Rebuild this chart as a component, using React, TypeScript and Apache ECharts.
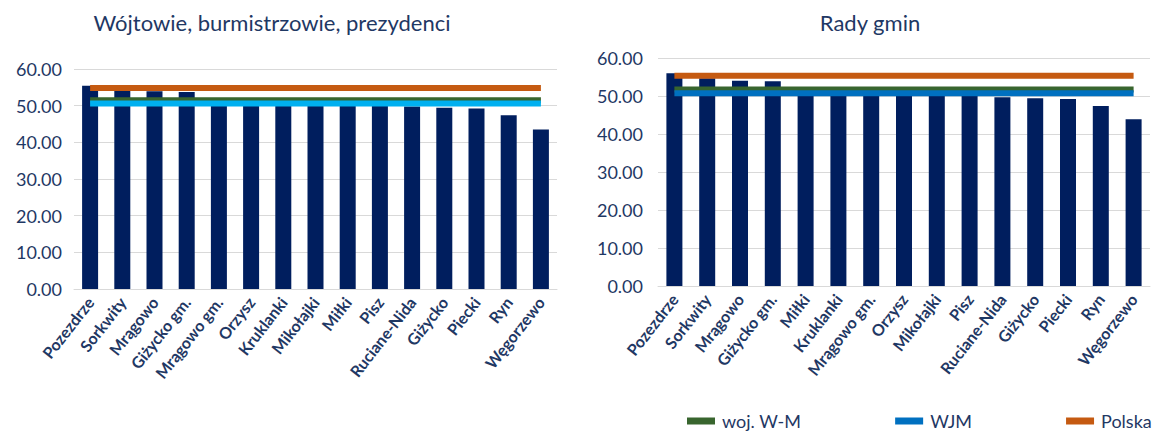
import React, { useEffect, useRef } from "react";
import * as echarts from "echarts";

const leftCategories = [
  "Pozezdrze", "Sorkwity", "Mrągowo", "Giżycko gm.", "Mrągowo gm.", "Orzysz", "Kruklanki",
  "Mikołajki", "Miłki", "Pisz", "Ruciane-Nida", "Giżycko", "Piecki", "Ryn", "Węgorzewo",
];
const leftValues = [55.4, 54.1, 53.9, 53.7, 51.6, 51.3, 51.0, 50.7, 50.4, 50.1, 49.8, 49.4, 49.2, 47.4, 43.5];
const leftWM = [51.5, 51.5, 51.5, 51.5, 51.5, 51.5, 51.5, 51.5, 51.5, 51.5, 51.5, 51.5, 51.5, 51.5, 51.5];
const leftWJM = [50.6, 50.6, 50.6, 50.6, 50.6, 50.6, 50.6, 50.6, 50.6, 50.6, 50.6, 50.6, 50.6, 50.6, 50.6];
const leftPL = [54.8, 54.8, 54.8, 54.8, 54.8, 54.8, 54.8, 54.8, 54.8, 54.8, 54.8, 54.8, 54.8, 54.8, 54.8];

const rightCategories = [
  "Pozezdrze", "Sorkwity", "Mrągowo", "Giżycko gm.", "Miłki", "Kruklanki", "Mrągowo gm.",
  "Orzysz", "Mikołajki", "Pisz", "Ruciane-Nida", "Giżycko", "Piecki", "Ryn", "Węgorzewo",
];
const rightValues = [56.0, 54.7, 54.0, 53.9, 51.5, 51.2, 50.9, 50.6, 50.3, 50.0, 49.7, 49.4, 49.2, 47.4, 43.9];
const rightWM = [51.7, 51.7, 51.7, 51.7, 51.7, 51.7, 51.7, 51.7, 51.7, 51.7, 51.7, 51.7, 51.7, 51.7, 51.7];
const rightWJM = [50.7, 50.7, 50.7, 50.7, 50.7, 50.7, 50.7, 50.7, 50.7, 50.7, 50.7, 50.7, 50.7, 50.7, 50.7];
const rightPL = [55.3, 55.3, 55.3, 55.3, 55.3, 55.3, 55.3, 55.3, 55.3, 55.3, 55.3, 55.3, 55.3, 55.3, 55.3];

const yTicks = { min: 0, max: 60, interval: 10 };
const titles = ["Wójtowie, burmistrzowie, prezydenci", "Rady gmin"];
const seriesNames = ["woj. W-M", "WJM", "Polska"];

const NAVY = "#001E5E";
const TEXT = "#1F3864";
const GREEN = "#38652E";
const CYAN = "#00B0F0";
const BLUE = "#0070C0";
const ORANGE = "#C55A11";
const FONT = "Lato, 'Open Sans', sans-serif";

export default function App() {
  const ref = useRef<HTMLDivElement>(null);

  useEffect(() => {
    if (!ref.current) return;
    const chart = echarts.init(ref.current, undefined, { renderer: "svg" });

    const xAxisCommon = (gridIndex: number, data: string[]) => ({
      type: "category",
      gridIndex,
      data,
      axisLine: { show: true, lineStyle: { color: "#D9D9D9", width: 1 } },
      axisTick: { show: false },
      axisLabel: {
        interval: 0,
        rotate: 52,
        margin: 10,
        color: TEXT,
        fontFamily: FONT,
        fontWeight: "bold",
        fontSize: 16,
      },
    });
    const yAxisCommon = (gridIndex: number, margin: number) => ({
      type: "value",
      gridIndex,
      min: yTicks.min,
      max: yTicks.max,
      interval: yTicks.interval,
      axisLine: { show: false },
      axisTick: { show: false },
      splitLine: { lineStyle: { color: "#D9D9D9", width: 1 } },
      axisLabel: {
        margin,
        color: TEXT,
        fontFamily: FONT,
        fontSize: 18,
        formatter: (v: number) => v.toFixed(2),
      },
    });
    const lineSeries = (name: string, idx: number, data: number[], color: string, z: number) => ({
      name,
      type: "line",
      xAxisIndex: idx,
      yAxisIndex: idx,
      data,
      symbol: "none",
      lineStyle: { color, width: 6, cap: "butt" },
      itemStyle: { color },
      z,
    });

    chart.setOption({
      animation: false,
      textStyle: { fontFamily: FONT },
      grid: [
        { left: 74, top: 69, width: 483, height: 220 },
        { left: 658, top: 58, width: 492, height: 228 },
      ],
      xAxis: [xAxisCommon(0, leftCategories), xAxisCommon(1, rightCategories)],
      yAxis: [yAxisCommon(0, 12), yAxisCommon(1, 15)],
      legend: {
        left: 687,
        top: 411,
        itemGap: 94,
        itemWidth: 28,
        itemHeight: 7,
        icon: "rect",
        padding: 0,
        textStyle: { color: TEXT, fontSize: 18, lineHeight: 20, fontFamily: FONT, padding: [0, 0, 0, 2] },
        data: [
          { name: seriesNames[0], itemStyle: { color: GREEN } },
          { name: seriesNames[1], itemStyle: { color: BLUE } },
          { name: seriesNames[2], itemStyle: { color: ORANGE } },
        ],
      },
      graphic: [
        {
          type: "text",
          x: 272,
          y: 22,
          style: {
            text: titles[0],
            align: "center",
            verticalAlign: "middle",
            fontSize: 22,
            fontFamily: FONT,
            fill: TEXT,
          },
        },
        {
          type: "text",
          x: 870,
          y: 22,
          style: {
            text: titles[1],
            align: "center",
            verticalAlign: "middle",
            fontSize: 22,
            fontFamily: FONT,
            fill: TEXT,
          },
        },
      ],
      series: [
        {
          name: "left",
          type: "bar",
          xAxisIndex: 0,
          yAxisIndex: 0,
          data: leftValues,
          barWidth: 16,
          itemStyle: { color: NAVY },
          z: 1,
        },
        lineSeries(seriesNames[0], 0, leftWM, GREEN, 2),
        lineSeries(seriesNames[1], 0, leftWJM, CYAN, 3),
        lineSeries(seriesNames[2], 0, leftPL, ORANGE, 4),
        {
          name: "right",
          type: "bar",
          xAxisIndex: 1,
          yAxisIndex: 1,
          data: rightValues,
          barWidth: 16,
          itemStyle: { color: NAVY },
          z: 1,
        },
        lineSeries(seriesNames[0], 1, rightWM, GREEN, 2),
        lineSeries(seriesNames[1], 1, rightWJM, BLUE, 3),
        lineSeries(seriesNames[2], 1, rightPL, ORANGE, 4),
      ],
    });

    return () => chart.dispose();
  }, []);

  return (
    <div
      ref={ref}
      style={{ position: "absolute", left: 0, top: 0, width: 1161, height: 432, background: "#fff" }}
    />
  );
}
